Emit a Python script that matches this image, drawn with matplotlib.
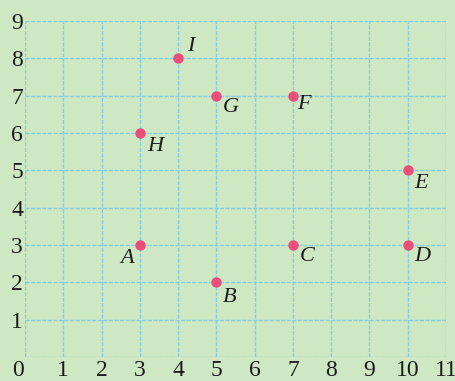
import matplotlib.pyplot as plt
import matplotlib.transforms as mtransforms

# points on the grid
names = ["A", "B", "C", "D", "E", "F", "G", "H", "I"]
xs = [3, 5, 7, 10, 10, 7, 5, 3, 4]
ys = [3, 2, 3, 3, 5, 7, 7, 6, 8]

# label offsets from each point (data units)
label_dx = [-0.33, 0.34, 0.38, 0.37, 0.34, 0.30, 0.37, 0.40, 0.32]
label_dy = [-0.35, -0.40, -0.32, -0.32, -0.34, -0.24, -0.32, -0.37, 0.31]

x_ticks = list(range(0, 12))
y_ticks = list(range(0, 10))

bg = "#cde8c3"
grid_col = "#86cde3"
pt_col = "#ea4f7c"

fig = plt.figure(figsize=(4.56, 3.81), dpi=100, facecolor=bg)
ax = fig.add_axes([25 / 456, 24 / 381, 421 / 456, 336 / 381])
ax.set_facecolor(bg)

ax.set_xlim(0, 11)
ax.set_ylim(0, 9)

# grid lines
for x in x_ticks:
    ax.axvline(x, color=grid_col, lw=1.0, ls=(0, (3, 1)), zorder=1)
for y in y_ticks:
    ax.axhline(y, color=grid_col, lw=1.0, ls=(0, (3, 1)), zorder=1)

for s in ax.spines.values():
    s.set_visible(False)

ax.set_xticks(x_ticks)
ax.set_yticks(y_ticks[1:])
ax.tick_params(length=0, labelsize=17, colors="#1c1c1c")
ax.tick_params(axis="x", pad=2.5)
ax.tick_params(axis="y", pad=1.5)
for lab in ax.get_xticklabels() + ax.get_yticklabels():
    lab.set_family("Liberation Serif")
zero = ax.get_xticklabels()[0]
zero.set_transform(zero.get_transform() +
                   mtransforms.ScaledTranslation(-7 / 100, 0, fig.dpi_scale_trans))

ax.plot(xs, ys, "o", color=pt_col, ms=7.5, mec="none", zorder=3)

for n, x, y, dx, dy in zip(names, xs, ys, label_dx, label_dy):
    ax.text(x + dx, y + dy, n, ha="center", va="center", fontsize=16,
            style="italic", family="Liberation Serif", color="#1c1c1c", zorder=4)

fig.savefig("out.png", dpi=100, facecolor=bg)
